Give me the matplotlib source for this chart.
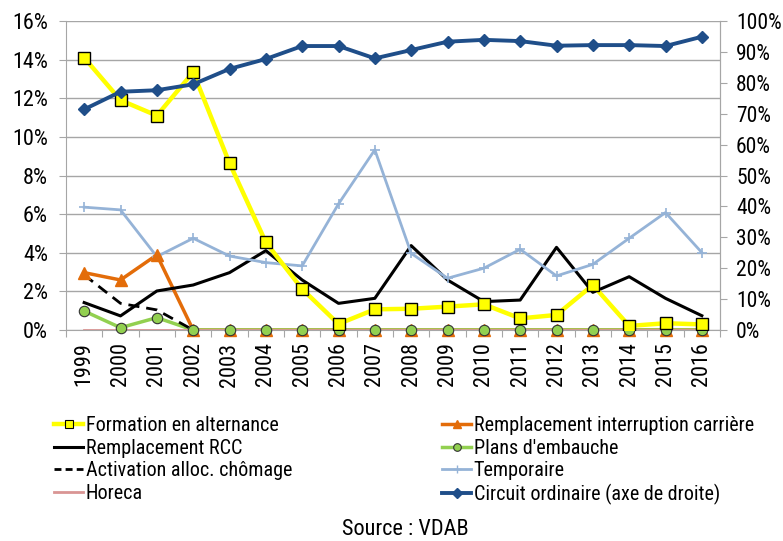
import matplotlib
matplotlib.use("Agg")
import matplotlib.pyplot as plt
from matplotlib.lines import Line2D
from matplotlib.ticker import FuncFormatter, FixedLocator
import matplotlib.font_manager as fm

names = {f.name for f in fm.fontManager.ttflist}
fam = [n for n in ['Liberation Sans Narrow', 'Arial Narrow', 'Roboto Condensed', 'Open Sans Condensed']
       if n in names] + ['Liberation Sans', 'DejaVu Sans']
plt.rcParams['font.family'] = fam

years = [str(y) for y in range(1999, 2017)]
formation = [14.1, 11.9, 11.1, 13.35, 8.64, 4.54, 2.12, 0.31, 1.07, 1.10, 1.21, 1.33, 0.60, 0.78, 2.33, 0.21, 0.35, 0.29]
interruption = [2.97, 2.59, 3.89, 0, 0, 0, 0, 0, 0, 0, 0, 0, 0, 0, 0, 0, 0, 0]
rcc = [1.42, 0.73, 2.02, 2.33, 2.97, 4.11, 2.59, 1.38, 1.64, 4.37, 2.59, 1.47, 1.55, 4.28, 1.95, 2.76, 1.64, 0.74]
plans = [0.98, 0.12, 0.64, 0, 0, 0, 0, 0, 0, 0, 0, 0, 0, 0, 0, 0, 0, 0]
activation = [2.85, 1.38, 1.04, 0]
temporaire = [6.36, 6.22, 3.80, 4.75, 3.83, 3.49, 3.32, 6.53, 9.33, 3.97, 2.68, 3.20, 4.18, 2.80, 3.40, 4.75, 6.08, 4.01]
horeca = [0] * 18
circuit = [71.4, 77.1, 77.6, 79.5, 84.5, 87.7, 91.9, 91.9, 87.9, 90.6, 93.3, 93.9, 93.5, 92.0, 92.2, 92.2, 91.9, 94.9]

labels = ["Formation en alternance", "Remplacement interruption carrière", "Remplacement RCC",
          "Plans d'embauche", "Activation alloc. chômage", "Temporaire", "Horeca",
          "Circuit ordinaire (axe de droite)"]

c_yellow = '#FFFF00'
c_orange = '#E36C09'
c_green = '#92D050'
c_temp = '#95B3D7'
c_horeca = '#D99594'
c_circ = '#1F4E89'
grid_c = '#A6A6A6'

fig = plt.figure(figsize=(7.83, 5.41), dpi=100)
ax = fig.add_axes([66/783, 1-330/541, (720-66)/783, (330-21)/541])
x = list(range(len(years)))

# lines
ax.plot(x, interruption, color=c_orange, lw=2.5, zorder=3)
ax.plot(x, plans, color=c_green, lw=2.5, zorder=3)
ax.plot(x, horeca, color=c_horeca, lw=2, zorder=4)
ax.plot(x[:len(activation)], activation, color='black', lw=2, ls=(0, (4, 2.5)), zorder=4)
ax.plot(x, rcc, color='black', lw=2.2, zorder=4)
ax.plot(x, temporaire, color=c_temp, lw=2, marker='+', ms=7, mew=1.2, zorder=4)
# markers
ax.plot(x, interruption, ls='none', marker='^', ms=8, mec=c_orange, mfc=c_orange, zorder=5, clip_on=False)
ax.plot(x, plans, ls='none', marker='o', ms=7.5, mec='#333333', mew=0.8, mfc=c_green, zorder=5, clip_on=False)
ax.plot(x, formation, color=c_yellow, lw=3.2, marker='s', ms=8, mec='black', mew=1, mfc=c_yellow, zorder=6)

ax.set_xlim(-0.5, 17.5)
ax.set_ylim(0, 16)
ax.yaxis.set_major_locator(FixedLocator([0, 2, 4, 6, 8, 10, 12, 14, 16]))
ax.yaxis.set_major_formatter(FuncFormatter(lambda v, p: f"{v:.0f}%"))
ax.grid(axis='y', color=grid_c, lw=1)
ax.set_axisbelow(True)
ax.set_xticks([i - 0.5 for i in range(19)])
ax.set_xticklabels([])
ax.set_xticks(x, minor=True)
ax.set_xticklabels(years, minor=True, rotation=90, fontsize=16)
ax.tick_params(axis='x', which='minor', length=0, pad=9)
ax.tick_params(axis='x', which='major', length=5, color=grid_c, direction='out')
ax.tick_params(axis='y', length=5, color=grid_c, labelsize=16, pad=8)
ax.spines['top'].set_visible(False)
for s in ['left', 'bottom', 'right']:
    ax.spines[s].set_color(grid_c)

ax2 = ax.twinx()
ax2.plot(x, circuit, color=c_circ, lw=2.8, marker='D', ms=6, mec=c_circ, mfc=c_circ, zorder=5)
ax2.set_ylim(0, 100)
ax2.yaxis.set_major_locator(FixedLocator(list(range(0, 101, 10))))
ax2.yaxis.set_major_formatter(FuncFormatter(lambda v, p: f"{v:.0f}%"))
ax2.tick_params(axis='y', length=5, color=grid_c, labelsize=15.5, pad=6.5)
for s in ['top', 'left', 'bottom']:
    ax2.spines[s].set_visible(False)
ax2.spines['right'].set_color(grid_c)
ax2.set_xlim(-0.5, 17.5)

h = {
    labels[0]: Line2D([], [], color=c_yellow, lw=3.2, marker='s', ms=5.5, mec='black', mew=0.8),
    labels[1]: Line2D([], [], color=c_orange, lw=2.5, marker='^', ms=6),
    labels[2]: Line2D([], [], color='black', lw=2.2),
    labels[3]: Line2D([], [], color=c_green, lw=2.5, marker='o', ms=5.5, mec='#333333', mew=0.8),
    labels[4]: Line2D([], [], color='black', lw=2, ls=(0, (2.5, 1.5))),
    labels[5]: Line2D([], [], color=c_temp, lw=2, marker='+', ms=6),
    labels[6]: Line2D([], [], color=c_horeca, lw=2),
    labels[7]: Line2D([], [], color=c_circ, lw=2.8, marker='D', ms=5),
}
col1 = [labels[0], labels[2], labels[4], labels[6]]
col2 = [labels[1], labels[3], labels[5], labels[7]]
common = dict(frameon=False, fontsize=14.5, handlelength=1.45, handletextpad=0.12,
              labelspacing=0.18, borderpad=0, borderaxespad=0, loc='upper left')
fig.legend([h[k] for k in col1], col1, bbox_to_anchor=(54/783, 1-416/541), **common)
fig.legend([h[k] for k in col2], col2, bbox_to_anchor=(442/783, 1-416/541), **common)

fig.text(405/783, 1-535/541, "Source : VDAB", ha='center', va='baseline', fontsize=16)

fig.savefig("out.png", dpi=100)
